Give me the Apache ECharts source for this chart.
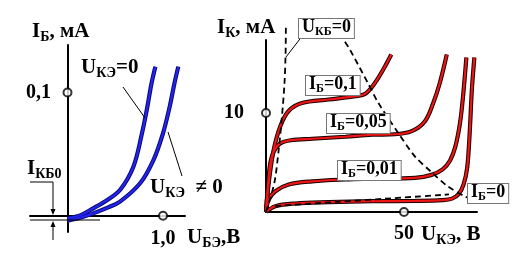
<!DOCTYPE html>
<html><head><meta charset="utf-8">
<script src="https://cdn.jsdelivr.net/npm/echarts@6/dist/echarts.min.js"></script>
<style>html,body{margin:0;padding:0;background:#fff}#c{width:525px;height:258px}</style>
</head><body><div id="c"></div>
<script>
// ---- Left panel: input characteristics I_Б (мА) vs U_БЭ (В)
const inCurveUce0   = [[0,-0.0021],[0.14,0.0005],[0.27,0.006],[0.42,0.013],[0.55,0.0209],[0.69,0.0398],[0.78,0.0669],[0.83,0.0858],[0.88,0.1075],[0.92,0.121]];
const inCurveUceNz  = [[0,-0.0041],[0.14,-0.0015],[0.27,0.0019],[0.42,0.0065],[0.55,0.0114],[0.76,0.0263],[0.9,0.0452],[1.0,0.0669],[1.07,0.0885],[1.12,0.1075],[1.16,0.121]];
const inTickPoints  = [[0,0.1],[1.0,0]];
const inXTicks = [1.0];
const inYTicks = [0.1];
// ---- Right panel: output characteristics I_К (мА) vs U_КЭ (В)
const outIb01  = [[0,0],[0.98,2.95],[2.8,6.3],[5.2,8.67],[8.2,10.2],[13,11.0],[22.7,11.36],[32.4,11.7],[36,11.95],[39.5,13.05],[43.1,14.7],[45.4,15.9]];
const outIb005 = [[0,0],[0.8,3.0],[1.6,5.0],[2.8,6.1],[5,6.9],[9,7.25],[16.7,7.4],[28.7,7.6],[38.4,7.8],[46.7,7.85],[52.8,8.16],[57.6,9.17],[60.6,11],[63,13.05],[65.5,15.9]];
const outIb001 = [[0,0],[0.98,1.26],[3.4,2.1],[8.2,2.78],[16.7,3.1],[28.7,3.28],[38.4,3.35],[54,3.45],[60,3.75],[64,4.3],[66.7,5.2],[68.6,6.6],[70.3,9.0],[71.5,12],[72.6,15.6]];
const outIb0   = [[0,0],[3.4,0.59],[10.6,0.86],[22.7,0.99],[38.4,1.09],[54,1.12],[64,1.2],[67.4,1.35],[69.8,1.8],[71.6,2.8],[72.9,4.5],[73.8,8.0],[74.6,12.4],[75.5,15.6]];
const outSatBoundary = [[0,0],[3.0,2.9],[4.6,6.3],[5.8,9.7],[6.7,13],[7.1,16],[7.2,18.9]];
const outPowerLimit  = [[28.6,17.2],[30.4,16.4],[37.0,12.98],[40.6,11.06],[47.8,8.03],[54.0,5.6],[60.1,3.99],[65.9,2.58],[72.1,1.57],[78.6,0.76]];
const outLeakage     = [[3.3,0.6],[66.3,1.77]];
const outTickPoints  = [[0,10],[50,0]];
const outXTicks = [50];
const outYTicks = [10];

const F = '"Liberation Serif","Times New Roman",serif';
function richStyles(ms, ss, pad){
  return {
    m:{fontSize:ms,fontWeight:'bold',fontFamily:F,color:'#000',lineHeight:ms,padding:[0,0,pad,0]},
    s:{fontSize:ss,fontWeight:'bold',fontFamily:F,color:'#000',lineHeight:ss,verticalAlign:'bottom'}
  };
}
function txt(left, top, text, box){
  const st = {text:text, rich: box ? richStyles(18,12,3) : richStyles(21,14,4)};
  if (box){ st.backgroundColor='#fff'; st.borderColor='#777'; st.borderWidth=1; st.padding=[1,3,0,3]; }
  return {type:'text', left:left, top:top, z:50, style:st};
}
function seg(x1,y1,x2,y2){ return {type:'line', z:40, shape:{x1,y1,x2,y2}, style:{stroke:'#000', lineWidth:1}}; }

const axisLbl = (ticks, margin, fmt) => ({customValues:ticks, margin:margin, color:'#000', fontSize:20, fontWeight:'bold', fontFamily:F, formatter:fmt});
const comma = v => v.toFixed(1).replace('.', ',');
const intf = v => String(Math.round(v));
const axLine = {onZero:true, lineStyle:{color:'#000', width:2}};

function curve(data, xi, color, edge){
  return [
    {type:'line', xAxisIndex:xi, yAxisIndex:xi, data:data, smooth:0.35, showSymbol:false, silent:true, clip:false, z:3, lineStyle:{color:edge, width:4.2}},
    {type:'line', xAxisIndex:xi, yAxisIndex:xi, data:data, smooth:0.35, showSymbol:false, silent:true, clip:false, z:4, lineStyle:{color:color, width:2.2}}
  ];
}
function dashed(data){
  return {type:'line', xAxisIndex:1, yAxisIndex:1, data:data, smooth:0.3, showSymbol:false, silent:true, clip:false, z:6, lineStyle:{color:'#000', width:1.8, type:[6,4]}};
}
const BLUE='#2323f0', BLUE_E='#0a0a70', RED='#f01414', RED_E='#1a0000';

const option = {
  animation:false,
  backgroundColor:'#fff',
  grid:[
    {left:30, top:45, width:155, height:187, containLabel:false, outerBoundsMode:'none'},
    {left:266, top:40, width:211, height:172, containLabel:false, outerBoundsMode:'none'}
  ],
  xAxis:[
    {gridIndex:0, type:'value', min:-0.3927, max:1.2304, axisLine:axLine, axisTick:{show:false}, splitLine:{show:false}, axisLabel:axisLbl(inXTicks, -3, comma)},
    {gridIndex:1, type:'value', min:0, max:76.45, axisLine:axLine, axisTick:{show:false}, splitLine:{show:false}, axisLabel:axisLbl(outXTicks, 12, intf)}
  ],
  yAxis:[
    {gridIndex:0, type:'value', min:-0.01323, max:0.13856, axisLine:axLine, axisTick:{show:false}, splitLine:{show:false}, axisLabel:axisLbl(inYTicks, -21, comma)},
    {gridIndex:1, type:'value', min:0, max:17.37, axisLine:axLine, axisTick:{show:false}, splitLine:{show:false}, axisLabel:axisLbl(outYTicks, 22, intf)}
  ],
  series:[].concat(
    curve(inCurveUce0, 0, BLUE, BLUE_E),
    curve(inCurveUceNz, 0, BLUE, BLUE_E),
    curve(outIb01, 1, RED, RED_E),
    curve(outIb005, 1, RED, RED_E),
    curve(outIb001, 1, RED, RED_E),
    curve(outIb0, 1, RED, RED_E),
    [dashed(outSatBoundary), dashed(outPowerLimit), dashed(outLeakage),
     {type:'scatter', xAxisIndex:0, yAxisIndex:0, data:inTickPoints, symbolSize:8, silent:true, z:10, itemStyle:{color:'#fff', borderColor:'#000', borderWidth:2}},
     {type:'scatter', xAxisIndex:1, yAxisIndex:1, data:outTickPoints, symbolSize:8, silent:true, z:10, itemStyle:{color:'#fff', borderColor:'#000', borderWidth:2}}]
  ),
  graphic:[
    txt(32,21,'{m|I}{s|Б}{m|, мА}'),
    txt(81,57,'{m|U}{s|КЭ}{m|=0}'),
    txt(150,177,'{m|U}{s|КЭ}{m|  ≠ 0}'),
    txt(27,158,'{m|I}{s|КБ0}'),
    txt(187,227,'{m|U}{s|БЭ}{m|,В}'),
    txt(217,17,'{m|I}{s|К}{m|, мА}'),
    txt(421,224,'{m|U}{s|КЭ}{m|, В}'),
    txt(298,18,'{m|U}{s|КБ}{m|=0}', true),
    txt(305,75,'{m|I}{s|Б}{m|=0,1}', true),
    txt(326,113,'{m|I}{s|Б}{m|=0,05}', true),
    txt(337,160,'{m|I}{s|Б}{m|=0,01}', true),
    txt(467,183,'{m|I}{s|Б}{m|=0}', true),
    seg(123,87,145,118),
    seg(168,132,182,176),
    seg(303,35,286,57),
    seg(30,182,53,182),
    seg(53,182,53,212),
    seg(30,220,100,220),
    seg(53,223,53,240),
    {type:'polygon', z:40, shape:{points:[[50.5,209],[55.5,209],[53,215]]}, style:{fill:'#000'}},
    {type:'polygon', z:40, shape:{points:[[50.5,227],[55.5,227],[53,221]]}, style:{fill:'#000'}}
  ]
};
const chart = echarts.init(document.getElementById('c'), null, {renderer:'canvas'});
chart.setOption(option);
</script>
</body></html>
